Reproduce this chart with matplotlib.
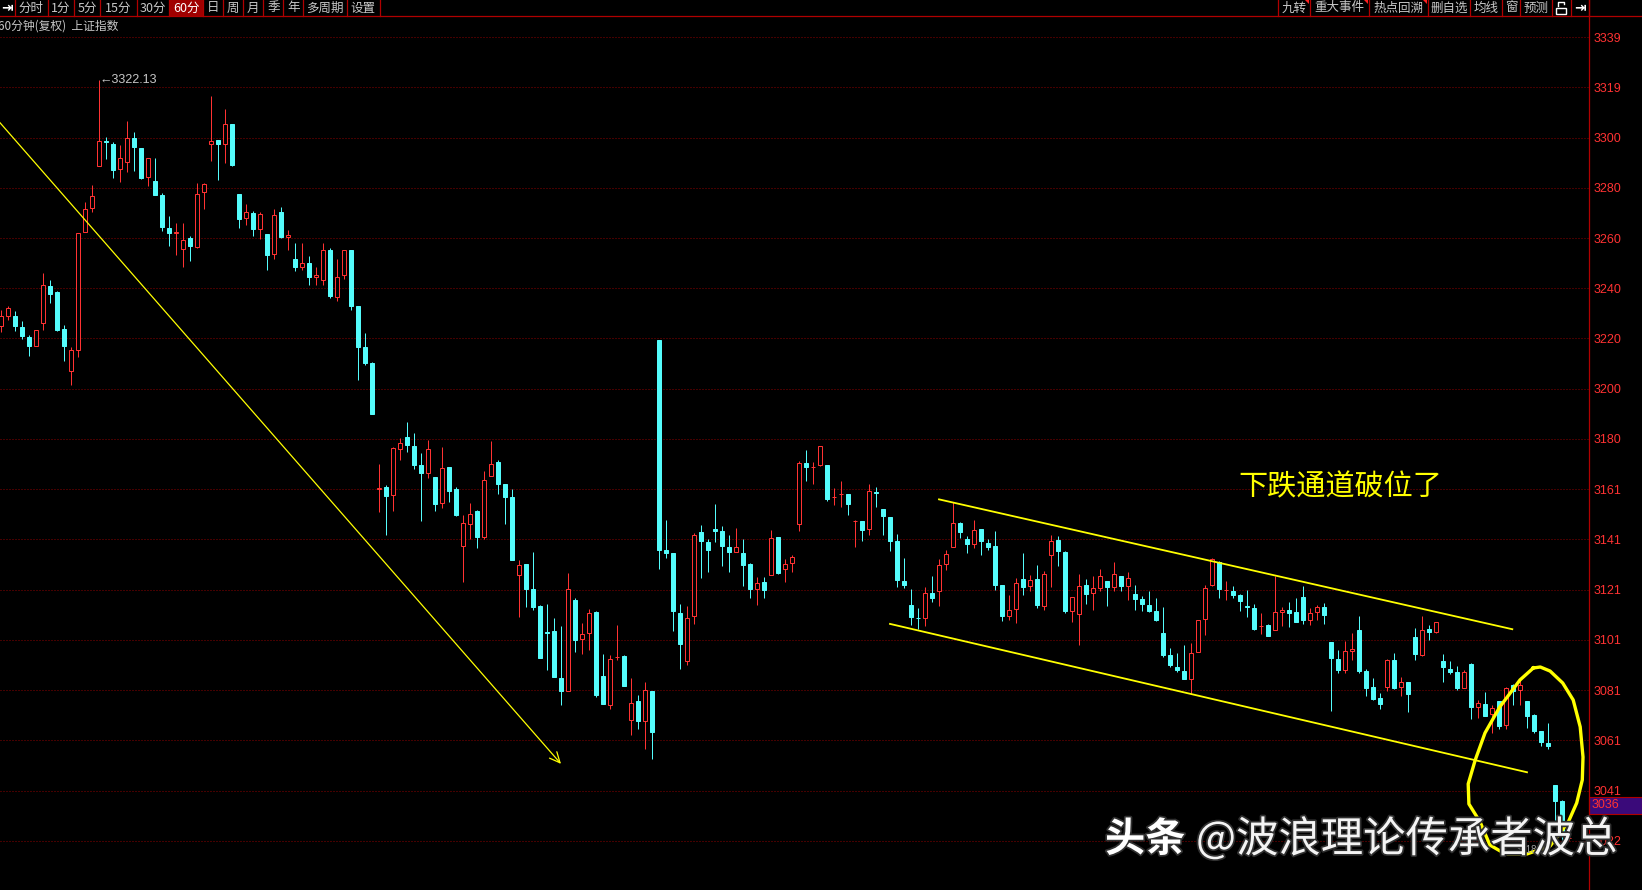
import matplotlib
matplotlib.use('Agg')

import numpy as np
import matplotlib.pyplot as plt
import matplotlib.patheffects as pe
from matplotlib.patches import Rectangle, Polygon
from matplotlib.lines import Line2D
import matplotlib.transforms as mtransforms

plt.rcParams['font.family'] = ['Noto Sans CJK SC', 'DejaVu Sans']

# 1) 60分钟 K线 (上证指数) — 开/高/低/收
opens = [3224.9, 3228.8, 3228.8, 3224.6, 3220.6, 3217.0, 3226.2, 3240.9, 3238.3, 3224.0,
         3207.5, 3215.7, 3262.0, 3271.5, 3288.0, 3298.0, 3297.0, 3287.0, 3289.7, 3299.0,
         3295.2, 3283.8, 3282.4, 3276.9, 3263.7, 3261.8, 3255.4, 3259.8, 3256.2, 3277.9,
         3296.8, 3298.3, 3296.8, 3304.8, 3277.1, 3267.5, 3269.6, 3263.3, 3261.5, 3253.5,
         3270.0, 3260.2, 3251.5, 3248.4, 3249.7, 3244.3, 3243.1, 3255.2, 3236.5, 3245.3,
         3254.9, 3233.1, 3216.8, 3210.3, 3160.8, 3161.5, 3158.4, 3176.4, 3181.4, 3177.9,
         3170.1, 3167.2, 3165.4, 3155.3, 3169.5, 3160.6, 3138.3, 3147.1, 3152.3, 3141.8,
         3165.8, 3171.5, 3162.8, 3157.6, 3126.7, 3131.4, 3121.2, 3114.6, 3104.6, 3104.8,
         3086.1, 3081.1, 3117.2, 3101.7, 3104.1, 3112.3, 3087.0, 3075.6, 3094.4, 3094.9,
         3069.7, 3077.2, 3069.3, 3081.1, 3219.7, 3136.7, 3135.4, 3112.0, 3092.9, 3110.7,
         3143.8, 3139.8, 3145.2, 3144.2, 3138.0, 3135.9, 3135.4, 3131.4, 3121.2, 3124.2,
         3126.8, 3141.7, 3129.2, 3131.6, 3147.0, 3171.0, 3169.4, 3170.4, 3170.4, 3157.6,
         3158.8, 3158.8, 3148.0, 3148.3, 3145.0, 3159.6, 3152.9, 3149.7, 3140.4, 3124.7,
         3115.2, 3110.1, 3109.9, 3119.8, 3120.4, 3131.2, 3137.9, 3147.4, 3141.0, 3139.1,
         3145.2, 3139.5, 3138.5, 3123.1, 3110.6, 3113.5, 3125.3, 3122.4, 3125.3, 3114.5,
         3134.7, 3140.8, 3136.0, 3112.6, 3111.5, 3123.1, 3119.8, 3121.8, 3124.7, 3122.2,
         3126.4, 3122.4, 3119.5, 3117.6, 3115.2, 3112.6, 3104.0, 3095.5, 3090.5, 3089.0,
         3085.9, 3096.4, 3109.6, 3122.8, 3132.0, 3120.8, 3120.7, 3118.8, 3114.6, 3113.9,
         3106.6, 3107.3, 3105.1, 3112.2, 3113.2, 3112.2, 3118.2, 3109.0, 3112.2, 3114.4,
         3100.6, 3093.8, 3089.5, 3097.0, 3105.2, 3089.2, 3082.6, 3078.3, 3082.9, 3093.4,
         3082.6, 3084.6, 3102.6, 3095.4, 3105.6, 3104.6, 3092.8, 3089.9, 3088.8, 3082.5,
         3091.8, 3074.8, 3076.1, 3072.0, 3077.3, 3067.8, 3083.5, 3081.5, 3077.1, 3071.6,
         3065.3, 3060.8, 3044.1, 3037.6, 3023.2]
highs = [3231.5, 3233.0, 3230.8, 3227.1, 3221.6, 3223.6, 3245.9, 3243.3, 3239.0, 3225.5,
         3216.7, 3261.7, 3273.8, 3280.8, 3322.13, 3299.5, 3297.5, 3296.6, 3306.0, 3301.4,
         3295.2, 3291.3, 3291.3, 3277.5, 3268.3, 3265.7, 3265.7, 3260.7, 3281.5, 3281.5,
         3315.6, 3298.5, 3310.6, 3304.8, 3277.1, 3273.3, 3270.3, 3270.0, 3261.5, 3271.0,
         3272.0, 3263.1, 3257.6, 3257.6, 3252.8, 3248.4, 3257.6, 3255.9, 3251.3, 3255.0,
         3255.0, 3233.1, 3222.4, 3210.8, 3170.7, 3162.2, 3177.3, 3181.0, 3187.1, 3182.7,
         3174.8, 3180.3, 3165.4, 3177.4, 3169.5, 3161.6, 3150.7, 3155.3, 3152.7, 3167.8,
         3179.9, 3172.4, 3162.8, 3160.6, 3132.6, 3131.4, 3135.9, 3114.9, 3115.3, 3109.8,
         3106.7, 3127.5, 3117.9, 3107.8, 3113.3, 3112.6, 3095.6, 3095.2, 3107.0, 3095.2,
         3086.1, 3079.4, 3084.8, 3081.1, 3219.7, 3148.4, 3135.4, 3115.3, 3114.6, 3143.3,
         3146.4, 3140.9, 3154.7, 3146.2, 3142.5, 3145.5, 3140.9, 3131.7, 3126.2, 3126.2,
         3144.8, 3141.8, 3133.2, 3134.9, 3171.7, 3176.0, 3171.3, 3177.9, 3170.4, 3161.2,
         3164.1, 3158.8, 3148.4, 3148.3, 3162.9, 3161.6, 3152.9, 3149.8, 3143.0, 3133.6,
         3121.4, 3113.9, 3122.2, 3126.6, 3133.2, 3136.9, 3155.5, 3147.6, 3142.4, 3148.4,
         3145.2, 3141.1, 3144.4, 3123.1, 3119.1, 3125.7, 3135.6, 3127.0, 3131.0, 3128.6,
         3142.8, 3142.4, 3136.5, 3118.2, 3127.3, 3125.3, 3126.6, 3129.3, 3124.7, 3131.9,
         3126.4, 3128.1, 3123.1, 3118.5, 3120.5, 3117.8, 3114.3, 3098.1, 3096.2, 3099.4,
         3100.1, 3109.3, 3123.1, 3133.6, 3132.3, 3124.4, 3122.7, 3119.2, 3121.1, 3115.6,
         3111.9, 3107.6, 3126.4, 3114.2, 3116.1, 3117.8, 3122.7, 3113.9, 3115.2, 3115.8,
         3100.6, 3097.4, 3101.0, 3104.2, 3110.8, 3089.7, 3086.2, 3080.5, 3093.8, 3096.3,
         3086.6, 3084.6, 3105.9, 3110.8, 3107.2, 3108.5, 3095.8, 3092.8, 3091.1, 3089.5,
         3092.1, 3077.4, 3080.9, 3075.7, 3077.3, 3082.9, 3084.0, 3085.7, 3077.1, 3072.0,
         3065.3, 3068.7, 3044.1, 3038.0, 3024.0]
lows = [3222.5, 3227.5, 3222.9, 3219.9, 3213.3, 3217.0, 3223.6, 3234.1, 3222.9, 3211.1,
        3201.6, 3212.9, 3262.0, 3269.9, 3288.0, 3291.0, 3283.4, 3281.7, 3285.7, 3286.0,
        3283.0, 3280.1, 3276.6, 3262.4, 3256.5, 3252.9, 3248.3, 3250.6, 3256.0, 3271.2,
        3290.0, 3282.5, 3289.3, 3288.3, 3263.5, 3265.0, 3260.7, 3259.4, 3247.3, 3251.5,
        3259.8, 3255.0, 3246.7, 3247.3, 3241.4, 3241.1, 3241.1, 3235.9, 3234.8, 3243.4,
        3231.3, 3203.7, 3209.6, 3190.2, 3151.7, 3142.5, 3152.3, 3172.4, 3175.3, 3168.7,
        3148.1, 3165.2, 3152.0, 3153.4, 3155.6, 3150.3, 3124.1, 3141.1, 3137.4, 3140.9,
        3165.8, 3159.0, 3146.8, 3132.7, 3110.4, 3114.4, 3113.0, 3094.2, 3089.4, 3086.8,
        3075.6, 3081.1, 3096.5, 3095.6, 3097.5, 3078.7, 3075.9, 3073.9, 3093.3, 3083.1,
        3063.6, 3066.0, 3058.1, 3054.2, 3129.3, 3133.7, 3104.8, 3090.0, 3091.2, 3107.4,
        3125.8, 3128.0, 3139.9, 3130.4, 3128.0, 3135.9, 3122.5, 3117.9, 3114.9, 3117.9,
        3126.8, 3127.4, 3124.0, 3128.0, 3144.1, 3163.8, 3162.9, 3170.0, 3155.9, 3154.6,
        3153.6, 3150.7, 3137.9, 3140.2, 3142.8, 3153.7, 3142.8, 3136.2, 3122.2, 3121.8,
        3107.3, 3105.6, 3106.7, 3116.1, 3114.5, 3128.7, 3137.9, 3141.5, 3135.6, 3137.5,
        3134.9, 3136.6, 3121.1, 3108.6, 3109.3, 3108.0, 3118.9, 3120.4, 3113.9, 3113.0,
        3122.2, 3130.3, 3111.9, 3108.3, 3099.4, 3115.6, 3113.0, 3120.5, 3114.6, 3120.5,
        3120.5, 3117.2, 3112.9, 3112.6, 3112.2, 3108.6, 3094.5, 3090.6, 3088.5, 3085.9,
        3080.1, 3096.4, 3103.4, 3122.4, 3117.8, 3117.2, 3117.8, 3112.8, 3110.3, 3105.3,
        3103.8, 3103.0, 3105.1, 3106.7, 3106.3, 3108.3, 3107.7, 3107.3, 3109.0, 3107.6,
        3073.4, 3088.4, 3088.2, 3093.4, 3088.2, 3079.2, 3077.6, 3074.1, 3081.2, 3081.8,
        3079.2, 3072.7, 3093.2, 3095.1, 3101.3, 3103.9, 3084.5, 3087.9, 3081.6, 3082.2,
        3070.0, 3070.4, 3071.1, 3064.5, 3066.1, 3066.1, 3075.5, 3075.5, 3066.4, 3064.4,
        3059.4, 3058.1, 3030.3, 3018.53, 3022.5]
closes = [3228.8, 3232.1, 3224.9, 3221.0, 3217.3, 3223.6, 3241.3, 3237.8, 3223.6, 3217.3,
          3215.7, 3261.7, 3271.2, 3276.5, 3298.1, 3297.5, 3286.5, 3291.3, 3299.2, 3295.5,
          3283.4, 3291.3, 3276.6, 3264.1, 3261.7, 3262.0, 3259.1, 3256.5, 3277.1, 3281.1,
          3298.1, 3296.8, 3304.7, 3288.7, 3267.4, 3270.0, 3263.3, 3269.4, 3253.0, 3269.0,
          3260.2, 3261.1, 3248.2, 3249.7, 3244.3, 3245.3, 3255.2, 3236.8, 3244.4, 3254.9,
          3233.1, 3216.7, 3210.3, 3190.2, 3161.0, 3158.0, 3177.0, 3179.0, 3178.3, 3170.1,
          3166.9, 3176.6, 3154.7, 3169.1, 3159.9, 3150.7, 3147.2, 3151.0, 3141.8, 3164.5,
          3170.8, 3162.6, 3157.6, 3132.7, 3131.0, 3121.2, 3114.2, 3094.2, 3104.2, 3086.8,
          3081.1, 3121.2, 3101.2, 3103.8, 3112.0, 3079.4, 3075.9, 3093.6, 3094.5, 3083.1,
          3076.5, 3069.3, 3081.4, 3065.0, 3136.7, 3135.6, 3112.6, 3099.5, 3110.0, 3142.5,
          3140.2, 3136.7, 3144.2, 3138.5, 3135.9, 3138.0, 3131.0, 3121.2, 3123.8, 3120.8,
          3141.6, 3127.7, 3131.4, 3134.0, 3171.0, 3169.3, 3169.5, 3177.6, 3157.0, 3157.7,
          3158.9, 3155.0, 3148.1, 3144.5, 3159.9, 3159.4, 3150.0, 3140.4, 3124.8, 3123.1,
          3110.3, 3109.9, 3119.8, 3117.8, 3130.9, 3135.2, 3147.4, 3143.8, 3139.2, 3144.8,
          3140.2, 3137.9, 3123.1, 3110.9, 3113.2, 3123.7, 3122.0, 3125.0, 3114.9, 3127.4,
          3140.4, 3136.2, 3112.6, 3118.2, 3122.4, 3119.5, 3121.8, 3126.4, 3122.0, 3127.3,
          3122.4, 3125.7, 3117.6, 3115.6, 3112.6, 3109.3, 3095.5, 3091.2, 3089.3, 3085.9,
          3096.2, 3109.3, 3121.8, 3133.2, 3121.5, 3120.9, 3118.9, 3116.5, 3114.4, 3105.6,
          3106.7, 3103.0, 3112.3, 3113.2, 3111.9, 3108.3, 3109.0, 3111.9, 3114.3, 3111.2,
          3094.1, 3089.5, 3097.0, 3097.8, 3089.2, 3082.5, 3077.9, 3076.1, 3093.4, 3082.2,
          3084.6, 3079.9, 3095.6, 3105.2, 3104.6, 3108.3, 3090.5, 3088.8, 3082.5, 3088.8,
          3075.0, 3076.3, 3071.3, 3074.4, 3067.4, 3082.2, 3081.2, 3083.7, 3071.2, 3065.4,
          3061.1, 3059.5, 3037.6, 3024.0, 3023.3]

# 右侧价格刻度
price_labels = [3339, 3319, 3300, 3280, 3260, 3240, 3220, 3200, 3180,
                3161, 3141, 3121, 3101, 3081, 3061, 3041, 3022]
last_price = 3036

# 手画的线 (K线序号, 价格)
down_line = ([-1, 80], [3307.9, 3052.4])
chan_top = ([134.0, 215.9], [3156.7, 3105.5])
chan_bot = ([127.0, 218.0], [3107.6, 3049.1])
loop_idx = [218.9, 217.0, 214.1, 212.0, 210.6, 209.6, 209.7, 211.3, 212.7, 214.9, 218.0,
            221.3, 223.9, 225.1, 225.9, 226.0, 225.6, 224.6, 223.1, 221.3, 219.9, 218.9]
loop_price = [3090.2, 3085.5, 3074.8, 3064.6, 3053.9, 3044.5, 3036.6, 3029.5, 3020.4, 3016.9,
              3016.9, 3020.0, 3029.5, 3037.0, 3046.1, 3055.1, 3067.0, 3077.6, 3084.3, 3089.0,
              3090.6, 3090.2]

left_tabs = ['分时', '1分', '5分', '15分', '30分', '60分', '日', '周', '月', '季', '年', '多周期', '设置']
right_tabs = ['九转', '重大事件', '热点回溯', '删自选', '均线', '窗', '预测']

# 2) 색/크기
W, H = 1642, 890
RED = '#ff3232'
CYAN = '#54fcfc'
YEL = '#ffff00'
GRID = '#8a0000'
AXR = '#b00000'
TXT = '#c8c8c8'

def fx(x): return x / W
def fy(y): return 1 - y / H

fig = plt.figure(figsize=(W / 100, H / 100), dpi=100, facecolor='black')
ax = fig.add_axes([0, 0, 1589 / W, (H - 16) / H])
ax.set_facecolor('black')
ax.set_xlim(-1 / 7, 1588 / 7)
ax.set_ylim(3002.68, 3347.28)
for s in ax.spines.values():
    s.set_visible(False)
ax.set_xticks([])

grid_vals = np.linspace(price_labels[0], price_labels[-1], len(price_labels))
for v in grid_vals:
    ax.axhline(v, color=GRID, lw=0.72, linestyle=(0, (1, 2)), zorder=1)
ax.yaxis.tick_right()
ax.set_yticks(grid_vals)
ax.set_yticklabels([str(v) for v in price_labels])
ax.tick_params(axis='y', length=0, pad=3, labelcolor=RED, labelsize=9)
for t in ax.get_yticklabels():
    t.set_fontfamily(['Liberation Sans', 'DejaVu Sans'])

# 3) K线
o = np.array(opens); h = np.array(highs); l = np.array(lows); c = np.array(closes)
x = np.arange(len(o))
up = c >= o
dn = ~up
lw = 0.72
bw = 4 / 7
ax.vlines(x[dn], l[dn], h[dn], color=CYAN, lw=lw, zorder=2)
ax.vlines(x[up], l[up], o[up], color=RED, lw=lw, zorder=2)
ax.vlines(x[up], c[up], h[up], color=RED, lw=lw, zorder=2)
ax.bar(x[dn], c[dn] - o[dn], bottom=o[dn], width=bw, color=CYAN, edgecolor=CYAN,
       lw=lw, zorder=3)
ax.bar(x[up], c[up] - o[up], bottom=o[up], width=bw, color='black', edgecolor=RED,
       lw=lw, zorder=3)

# 最高/最低 标注
ih = int(np.argmax(h)); il = int(np.argmin(l))
ax.text(ih, h[ih], f'←{h[ih]:.2f}', color=TXT, fontsize=9, ha='left', va='center',
        family=['Liberation Sans', 'DejaVu Sans'], zorder=5)
ax.text(il - 0.3, l[il], f'{l[il]:.2f}→', color='#a0a0a0', fontsize=7, ha='right', va='center',
        family=['Liberation Sans', 'DejaVu Sans'], zorder=5)

# 4) 黄线
ax.annotate('', xy=(down_line[0][1], down_line[1][1]), xytext=(down_line[0][0], down_line[1][0]),
            arrowprops=dict(arrowstyle='->,head_length=0.75,head_width=0.35', color=YEL,
                            lw=0.9, shrinkA=0, shrinkB=0), annotation_clip=False, zorder=4)
ax.plot(*chan_top, color=YEL, lw=1.3, zorder=4)
ax.plot(*chan_bot, color=YEL, lw=1.3, zorder=4)
ax.plot(loop_idx, loop_price, color=YEL, lw=2.4, zorder=4, solid_joinstyle='round')
ax.text(191.3, 3161.6, '下跌通道破位了', color=YEL, fontsize=21, ha='center', va='center', zorder=5)

# 当前价 框
bt = mtransforms.blended_transform_factory(ax.transAxes, ax.transData)
ax.add_patch(Rectangle((1.0, last_price - 3.3), (W - 1589) / 1589, 6.6, transform=bt,
                       facecolor='#3a0a7a', edgecolor=AXR, lw=0.8, clip_on=False, zorder=6))
ax.text(1592 / 1589, last_price, str(last_price), transform=bt, color=RED, fontsize=9,
        ha='left', va='center', family=['Liberation Sans', 'DejaVu Sans'], zorder=7, clip_on=False)

# 5) 顶部工具栏
fig.add_artist(Line2D([fx(1589), fx(1589)], [0, 1], color=AXR, lw=0.9))
fig.add_artist(Line2D([0, 1], [fy(16), fy(16)], color=AXR, lw=0.9))
seps_l = [15, 47.7, 74, 100, 136.7, 169.3, 203.3, 222.7, 243.3, 263.3, 283.3, 303.3, 346.7, 380]
for s in seps_l:
    fig.add_artist(Line2D([fx(s), fx(s)], [fy(0), fy(16)], color=AXR, lw=0.9))
fig.text(fx(7), fy(8), '⇥', color='white', fontsize=10, ha='center', va='center',
         family=['DejaVu Sans'], weight='bold')
for i, lab in enumerate(left_tabs):
    a, b = seps_l[i], seps_l[i + 1]
    if lab == '60分':
        fig.add_artist(Rectangle((fx(a), fy(16)), fx(b - a), 16 / H, facecolor='#a00000',
                                 edgecolor='none'))
        col = 'white'
    else:
        col = TXT
    fig.text(fx((a + b) / 2), fy(8), lab, color=col, fontsize=9, ha='center', va='center')

seps_r = [1278.3, 1310, 1369.3, 1428.3, 1470, 1501.7, 1520, 1551.7, 1570.7, 1589.3]
for s in seps_r:
    fig.add_artist(Line2D([fx(s), fx(s)], [fy(0), fy(16)], color=AXR, lw=0.9))
for i, lab in enumerate(right_tabs):
    a, b = seps_r[i], seps_r[i + 1]
    fig.text(fx((a + b) / 2), fy(8), lab, color=TXT, fontsize=9, ha='center', va='center')
    if i < 3:
        fig.add_artist(Polygon([(fx(b - 5), fy(0)), (fx(b - 1), fy(0)), (fx(b - 1), fy(4))],
                               closed=True, facecolor='#ff2020', edgecolor='none'))
# 锁
fig.add_artist(Rectangle((fx(1555.5), fy(14)), fx(10), 6 / H, facecolor='none',
                         edgecolor='white', lw=1))
fig.add_artist(Line2D([fx(1557.5), fx(1557.5), fx(1563.5), fx(1563.5)],
                      [fy(6), fy(2), fy(2), fy(4)], color='white', lw=1))
fig.text(fx(1580), fy(8), '⇥', color='white', fontsize=10, ha='center', va='center',
         family=['DejaVu Sans'], weight='bold')

fig.text(fx(-2), fy(26), '60分钟(复权)  上证指数', color=TXT, fontsize=8.5, ha='left', va='center')

# 6) 水印
stroke = [pe.withStroke(linewidth=2.5, foreground='#303030')]
fig.text(fx(1105), fy(840), '头条', color='white', fontsize=29, weight='bold',
         ha='left', va='center', path_effects=stroke)
fig.text(fx(1196), fy(840), '@波浪理论传承者波总', color='#f4f4f4', fontsize=30.5,
         ha='left', va='center', path_effects=stroke)

fig.savefig('out.png', dpi=100, facecolor='black')
